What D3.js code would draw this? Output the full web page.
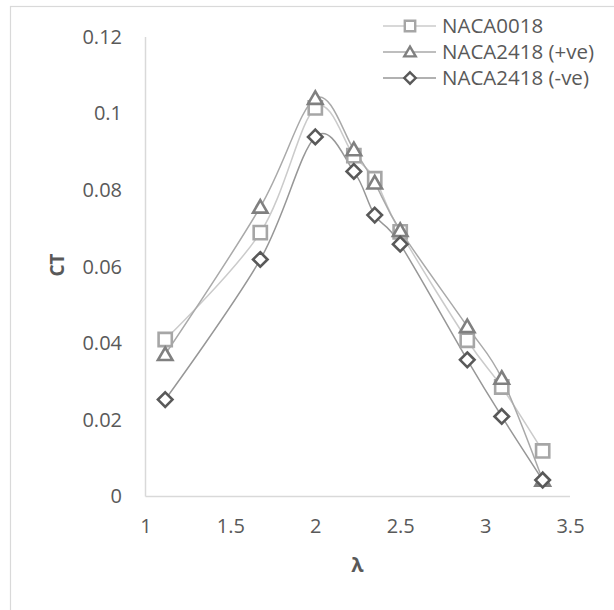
<!DOCTYPE html>
<html>
<head>
<meta charset="utf-8">
<script src="https://cdn.jsdelivr.net/npm/d3@7"></script>
<style>
  html, body { margin: 0; padding: 0; background: #fff; }
  svg { display: block; }
  text { font-family: "Open Sans", Lato, sans-serif; fill: #595959; }
</style>
</head>
<body>
<svg id="chart" width="614" height="610"></svg>
<script>
// Tip speed ratio (λ) and thrust coefficient (CT) for each profile
const lambda = [1.116, 1.676, 2.0, 2.227, 2.35, 2.5, 2.895, 3.098, 3.339];
const naca0018 = [0.041, 0.0689, 0.1015, 0.089, 0.083, 0.0691, 0.0408, 0.0286, 0.0119];
const naca2418Pos = [0.0371, 0.0756, 0.1040, 0.0906, 0.0819, 0.0695, 0.0444, 0.0309, 0.0043];
const naca2418Neg = [0.0253, 0.0619, 0.0939, 0.0849, 0.0735, 0.0659, 0.0357, 0.0209, 0.0043];

const xTicks = [1, 1.5, 2, 2.5, 3, 3.5];
const yTicks = [0, 0.02, 0.04, 0.06, 0.08, 0.1, 0.12];
const seriesNames = ["NACA0018", "NACA2418 (+ve)", "NACA2418 (-ve)"];

const series = [
  { name: seriesNames[0], values: naca0018, shape: "square", line: "#cbcbcb", marker: "#a6a6a6" },
  { name: seriesNames[1], values: naca2418Pos, shape: "triangle", line: "#a9a9a9", marker: "#808080" },
  { name: seriesNames[2], values: naca2418Neg, shape: "diamond", line: "#979797", marker: "#595959" }
];

const FONT = "'Open Sans', Lato, sans-serif";
const svg = d3.select("#chart");

// outer chart frame
svg.append("rect")
  .attr("x", 10.5).attr("y", 6.5).attr("width", 640).attr("height", 640)
  .attr("fill", "none").attr("stroke", "#d9d9d9").attr("stroke-width", 1.2);

const x = d3.scaleLinear().domain([1, 3.5]).range([145.5, 570]);
const y = d3.scaleLinear().domain([0, 0.12]).range([496.5, 37]);

// axis lines
svg.append("line")
  .attr("x1", x(1)).attr("x2", x(3.5)).attr("y1", y(0)).attr("y2", y(0))
  .attr("stroke", "#d9d9d9").attr("stroke-width", 1.5);
svg.append("line")
  .attr("x1", x(1)).attr("x2", x(1)).attr("y1", y(0)).attr("y2", y(0.12))
  .attr("stroke", "#d9d9d9").attr("stroke-width", 1.5);

// tick labels
const xAxis = d3.axisBottom(x).tickValues(xTicks).tickSize(0).tickPadding(22.5)
  .tickFormat(d3.format("~g"));
const gx = svg.append("g").attr("transform", `translate(0,${y(0)})`).call(xAxis);
gx.select(".domain").remove();
gx.selectAll("text").attr("font-size", 20).attr("fill", "#595959").attr("font-family", FONT);

const yAxis = d3.axisLeft(y).tickValues(yTicks).tickSize(0).tickPadding(23.5)
  .tickFormat(d3.format("~g"));
const gy = svg.append("g").attr("transform", `translate(${x(1)},0)`).call(yAxis);
gy.select(".domain").remove();
gy.selectAll("text").attr("font-size", 20).attr("fill", "#595959").attr("font-family", FONT);

// axis titles
svg.append("text").attr("x", 357.5).attr("y", 572).attr("text-anchor", "middle")
  .attr("font-size", 20).attr("font-weight", "bold").text("λ");
svg.append("text").attr("transform", "translate(64,265) rotate(-90)")
  .attr("text-anchor", "middle").attr("font-size", 19).attr("font-weight", "bold").text("CT");

const symbolPath = (shape, s) => {
  if (shape === "square") return `M${-s},${-s}H${s}V${s}H${-s}Z`;
  if (shape === "triangle") return `M0,${-s * 1.05}L${s * 1.1},${s * 0.85}H${-s * 1.1}Z`;
  return `M0,${-s * 1.1}L${s * 1.1},0L0,${s * 1.1}L${-s * 1.1},0Z`;
};

const line = d3.line()
  .x((d, i) => x(lambda[i]))
  .y(d => y(d))
  .curve(d3.curveCardinal.tension(0));

// curves first, then markers on top
series.forEach(s => {
  svg.append("path").datum(s.values)
    .attr("d", line).attr("fill", "none")
    .attr("stroke", s.line).attr("stroke-width", 1.5);
});
series.forEach(s => {
  svg.append("g").selectAll("path").data(s.values).join("path")
    .attr("transform", (d, i) => `translate(${x(lambda[i])},${y(d)})`)
    .attr("d", symbolPath(s.shape, 6.6))
    .attr("fill", "#fff").attr("stroke", s.marker).attr("stroke-width", 2.6);
});

// legend
const legend = svg.append("g");
series.forEach((s, i) => {
  const ly = 26 + i * 26;
  legend.append("line").attr("x1", 383).attr("x2", 436).attr("y1", ly).attr("y2", ly)
    .attr("stroke", s.line).attr("stroke-width", 1.5);
  legend.append("path").attr("transform", `translate(410,${ly})`)
    .attr("d", symbolPath(s.shape, 5.2))
    .attr("fill", "#fff").attr("stroke", s.marker).attr("stroke-width", 2.4);
  legend.append("text").attr("x", 442).attr("y", ly).attr("dy", "0.35em")
    .attr("font-size", 20.5).attr("font-family", FONT).text(s.name);
});
</script>
</body>
</html>
